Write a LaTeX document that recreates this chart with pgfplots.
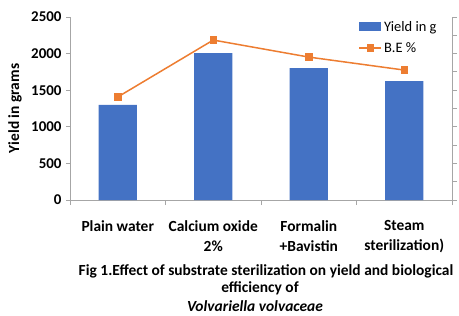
\documentclass[border=0pt]{standalone}
\usepackage{pgfplots}
\pgfplotsset{compat=1.18}
\usepackage{fontspec}
\setmainfont{Carlito}
\definecolor{barblue}{HTML}{4472C4}
\definecolor{beorange}{HTML}{ED7D31}
\definecolor{axgray}{HTML}{A6A6A6}
\pgfplotsset{mylinelegend/.style={legend image code/.code={\draw[mark repeat=2,mark phase=2,##1] plot coordinates {(0bp,0bp)(11bp,0bp)(22bp,0bp)};}}}
\begin{document}
\begin{tikzpicture}[x=1bp,y=1bp]
\useasboundingbox (0,0) rectangle (459,315);
\begin{axis}[
  at={(70bp,115bp)}, anchor=south west,
  scale only axis, width=382bp, height=183bp,
  xmin=-0.5, xmax=3.5, ymin=0, ymax=2500,
  ytick={0,500,1000,1500,2000,2500},
  xtick={0,1,2,3},
  xticklabels={{Plain water},{Calcium oxide\\2\%},{Formalin\\+Bavistin},{Steam\\sterilization)}},
  xticklabel style={align=center, anchor=north, yshift=-13bp, font=\fontsize{15.5}{20}\selectfont\bfseries},
  yticklabel style={font=\fontsize{15}{17}\selectfont\bfseries, xshift=-1bp},
  /pgf/number format/assume math mode=true,
  /pgf/number format/1000 sep={},
  major x tick style={draw=none},
  minor xtick={-0.5,0.5,1.5,2.5,3.5},
  minor tick length=5bp, major tick length=4bp,
  tick align=outside,
  axis x line*=bottom, axis y line*=left,
  axis line style={axgray, line width=0.8bp},
  tick style={axgray, line width=0.8bp},
  ylabel={Yield in grams},
  every axis y label/.style={at={(rel axis cs:-0.144,0.5)}, rotate=90, anchor=center, font=\fontsize{15.5}{18}\selectfont\bfseries},
  legend style={at={(rel axis cs:0.755,0.99)}, anchor=north west, draw=none, fill=none, font=\fontsize{14.5}{16}\selectfont, row sep=6bp, inner sep=0pt},
  legend cell align=left,
]
\addplot[ybar, bar width=0.4, fill=barblue, draw=none,
  legend image code/.code={\fill[barblue] (0bp,-4.5bp) rectangle (22bp,4.5bp);}]
  coordinates {(0,1300) (1,2005) (2,1800) (3,1625)};
\addlegendentry{Yield in g}
\addlegendimage{beorange, line width=1.5bp, mark=square*, mark size=3bp, mylinelegend}
\addlegendentry{B.E \%}
\end{axis}
\begin{axis}[
  at={(70bp,115bp)}, anchor=south west,
  scale only axis, width=382bp, height=183bp,
  xmin=-0.5, xmax=3.5, ymin=0, ymax=100,
  ytick={0,10,...,100}, yticklabels={},
  axis y line*=right, axis x line=none,
  tick align=outside, major tick length=5bp,
  axis line style={axgray, line width=0.8bp},
  tick style={axgray, line width=0.8bp},
]
\addplot[beorange, line width=1.5bp, mark=square*, mark size=3bp]
  coordinates {(0,56.3) (1,87.4) (2,78.1) (3,71.0)};
\end{axis}
\node[inner sep=1bp, font=\fontsize{15.5}{18}\selectfont\bfseries] at (266,44) {Fig 1.Effect of substrate sterilization on yield and biological};
\node[inner sep=1bp, font=\fontsize{15.5}{18}\selectfont\bfseries] at (260,26.5) {efficiency of};
\node[inner sep=1bp, font=\fontsize{15.5}{18}\selectfont\bfseries\itshape] at (255,9) {Volvariella volvaceae};
\end{tikzpicture}
\end{document}
